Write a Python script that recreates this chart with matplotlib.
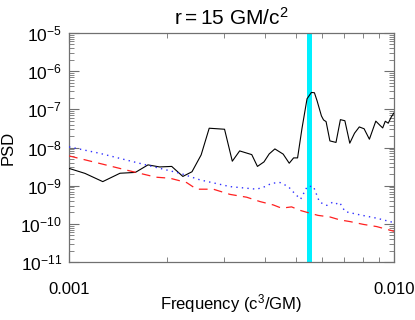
import matplotlib
matplotlib.use("Agg")
import matplotlib.pyplot as plt
from matplotlib import ticker

plt.rcParams['font.family'] = ['Liberation Sans', 'DejaVu Sans']
plt.rcParams['mathtext.fontset'] = 'custom'
plt.rcParams['mathtext.rm'] = 'Liberation Sans'
plt.rcParams['mathtext.it'] = 'Liberation Sans:italic'

# Black solid: simulated PSD
freq_black = [0.001, 0.00112, 0.00127, 0.001435, 0.0016, 0.00175, 0.0019, 0.00207,
              0.00224, 0.00239, 0.00255, 0.0027, 0.00301, 0.00318, 0.00335, 0.00365,
              0.0038, 0.00398, 0.00413, 0.0043, 0.00456, 0.00476, 0.00491, 0.00505,
              0.00521, 0.0054, 0.00557, 0.00569, 0.0058, 0.00598, 0.00607, 0.00618,
              0.00635, 0.00663, 0.00684, 0.00706, 0.00731, 0.00756, 0.00782, 0.00809,
              0.0084, 0.00879, 0.00906, 0.00923, 0.0094, 0.0096, 0.00981, 0.01]
psd_black = [2.84e-9, 2.10e-9, 1.28e-9, 2.12e-9, 2.23e-9, 3.51e-9, 3.10e-9, 3.20e-9,
             1.75e-9, 2.32e-9, 6.40e-9, 3.20e-8, 3.01e-8, 4.38e-9, 8.15e-9, 6.52e-9,
             3.20e-9, 4.20e-9, 6.80e-9, 9.19e-9, 6.72e-9, 3.88e-9, 5.35e-9, 5.35e-9,
             3.16e-8, 1.89e-7, 2.77e-7, 2.72e-7, 1.66e-7, 6.72e-8, 5.28e-8, 4.77e-8,
             1.49e-8, 1.36e-8, 5.37e-8, 5.03e-8, 1.30e-8, 2.37e-8, 3.46e-8, 3.10e-8,
             1.65e-8, 4.91e-8, 3.79e-8, 3.26e-8, 4.88e-8, 4.33e-8, 6.33e-8, 8.05e-8]

# Blue dotted
freq_blue = [0.001, 0.001239, 0.00157, 0.001896, 0.002196, 0.00253, 0.00313, 0.00378,
             0.00401, 0.004205, 0.00446, 0.00473, 0.00496, 0.00516, 0.00541, 0.00565,
             0.0059, 0.00621, 0.00648, 0.00663, 0.0068, 0.00707, 0.00786, 0.00885, 0.01]
psd_blue = [1.04e-8, 7.10e-9, 4.28e-9, 2.87e-9, 2.12e-9, 1.42e-9, 9.47e-10, 8.10e-10,
            9.47e-10, 1.16e-9, 1.21e-9, 9.47e-10, 6.10e-10, 4.43e-10, 9.59e-10, 9.59e-10,
            3.72e-10, 3.05e-10, 3.70e-10, 3.34e-10, 3.66e-10, 2.10e-10, 1.72e-10, 1.41e-10,
            1.08e-10]

# Red dashed
freq_red = [0.001, 0.00127, 0.00157, 0.001853, 0.002046, 0.0023, 0.00247, 0.00278,
            0.00313, 0.00352, 0.00387, 0.00425, 0.00451, 0.00484, 0.00514, 0.00551,
            0.00584, 0.00635, 0.00682, 0.00732, 0.00805, 0.00885, 0.01]
psd_red = [6.03e-9, 3.66e-9, 2.34e-9, 1.67e-9, 1.57e-9, 1.21e-9, 8.10e-10, 8.10e-10,
           5.92e-10, 5.00e-10, 3.84e-10, 3.14e-10, 2.58e-10, 2.79e-10, 2.26e-10, 1.91e-10,
           1.67e-10, 1.52e-10, 1.27e-10, 1.15e-10, 9.7e-11, 8.5e-11, 6.4e-11]

qpo_freq = 0.0055
ytick_vals = [1e-11, 1e-10, 1e-9, 1e-8, 1e-7, 1e-6, 1e-5]
ytick_labels = [r'$\mathregular{10^{-11}}$', r'$\mathregular{10^{-10}}$',
                r'$\mathregular{10^{-9}}$', r'$\mathregular{10^{-8}}$',
                r'$\mathregular{10^{-7}}$', r'$\mathregular{10^{-6}}$',
                r'$\mathregular{10^{-5}}$']
xtick_vals = [0.001, 0.01]
xtick_labels = ['0.001', '0.010']

fig = plt.figure(figsize=(4.15, 3.2), dpi=100)
ax = fig.add_axes([0.1663, 0.181, 0.7831, 0.716])

ax.axvspan(qpo_freq / 1.018, qpo_freq * 1.018, color='#00f0ff', lw=0, zorder=1)
ax.plot(freq_black, psd_black, color='black', lw=0.8, zorder=3)
ax.plot(freq_blue, psd_blue, color='#3030ff', lw=1.0, ls=(0, (1, 3)), zorder=3)
ax.plot(freq_red, psd_red, color='#ff2020', lw=0.9, ls=(0, (7, 5)), zorder=3)

ax.set_xscale('log')
ax.set_yscale('log')
ax.set_xlim(0.001, 0.01)
ax.set_ylim(1e-11, 1e-5)

ax.set_yticks(ytick_vals)
ax.set_yticklabels(ytick_labels)
ax.set_xticks(xtick_vals)
ax.set_xticklabels(xtick_labels)
ax.yaxis.set_minor_locator(ticker.LogLocator(base=10, subs=range(2, 10), numticks=20))
ax.xaxis.set_minor_locator(ticker.LogLocator(base=10, subs=range(2, 10), numticks=20))
ax.xaxis.set_minor_formatter(ticker.NullFormatter())
ax.yaxis.set_minor_formatter(ticker.NullFormatter())

axis_col = '#707070'
for s in ax.spines.values():
    s.set_color(axis_col)
    s.set_linewidth(0.9)
ax.tick_params(which='both', direction='in', top=True, right=True, colors=axis_col,
               labelcolor='black')
ax.tick_params(axis='y', which='major', labelsize=12.5, pad=5)
ax.tick_params(axis='x', which='major', labelsize=12, pad=14)
ax.tick_params(which='major', length=7, width=0.8)
ax.tick_params(which='minor', length=3.5, width=0.6)

ax.set_title(r'r$\mathregular{=}$15 GM/c$\mathregular{^2}$', fontsize=15, pad=6)
ax.set_xlabel(r'Frequency (c$\mathregular{^3}$/GM)', fontsize=12, va='center')
ax.xaxis.set_label_coords(0.5, (262 - 303) / 229)
ax.set_ylabel('PSD', fontsize=12, va='center')
ax.yaxis.set_label_coords((8 - 69) / 325, 0.5)

fig.savefig('out.png', dpi=100)
